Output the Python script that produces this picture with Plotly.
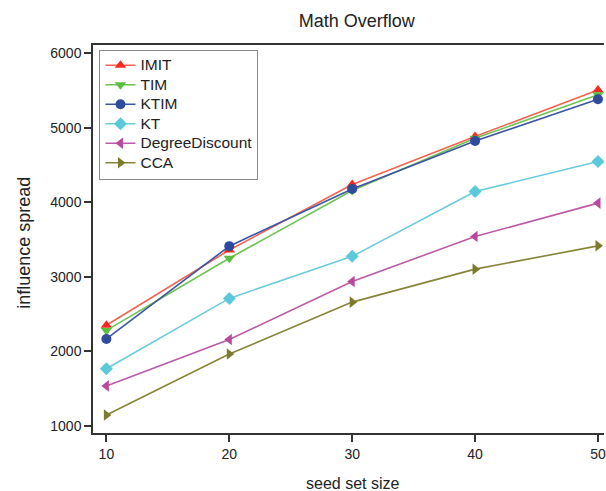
import plotly.graph_objects as go

seed_sizes = [10, 20, 30, 40, 50]
x_ticks = [10, 20, 30, 40, 50]
y_ticks = [1000, 2000, 3000, 4000, 5000, 6000]

imit = [2350, 3360, 4240, 4885, 5510]
tim = [2280, 3250, 4160, 4860, 5445]
ktim = [2165, 3412, 4180, 4825, 5385]
kt = [1765, 2710, 3275, 4145, 4548]
degree_discount = [1535, 2158, 2937, 3541, 3990]
cca = [1145, 1962, 2660, 3103, 3416]

series = [
    ("IMIT", imit, "#F42A22", "#F2644F", "triangle-up"),
    ("TIM", tim, "#5DBE3E", "#6CC452", "triangle-down"),
    ("KTIM", ktim, "#2E4B9E", "#3A55A4", "circle"),
    ("KT", kt, "#5CC9DB", "#69CCDD", "diamond"),
    ("DegreeDiscount", degree_discount, "#B8499F", "#BD5AA8", "triangle-left"),
    ("CCA", cca, "#7C7B2C", "#85853A", "triangle-right"),
]

fig = go.Figure()
for name, vals, mcol, lcol, sym in series:
    fig.add_trace(go.Scatter(
        x=seed_sizes, y=vals,
        name="<span style='font-size:15.5px'>" + name + "</span>",
        mode="lines+markers",
        line=dict(color=lcol, width=1.6),
        marker=dict(symbol=sym, size=10, color=mcol),
        cliponaxis=False,
    ))

W, H = 606, 491
L, R, T, B = 93, 0, 45, 58
pw, ph = W - L - R, H - T - B

font_family = "Liberation Sans, Arial, Helvetica, sans-serif"

fig.update_layout(
    width=W, height=H,
    margin=dict(l=L, r=R, t=T, b=B, pad=0),
    plot_bgcolor="white", paper_bgcolor="white",
    font=dict(family=font_family, color="#222222"),
    title=dict(text="Math Overflow", x=356.7 / W, xanchor="center",
               y=1 - 21 / H, yanchor="middle", yref="container",
               font=dict(size=18, color="#222222")),
    showlegend=True,
    legend=dict(x=(99.5 - L) / pw, y=(H - B - 49.5) / ph, xanchor="left", yanchor="top",
                bordercolor="#8A8A8A", borderwidth=1, bgcolor="white",
                font=dict(size=12.7, color="#222222"), tracegroupgap=0),
    xaxis=dict(range=[8.91, 50.49], tickvals=x_ticks, ticks="outside", ticklen=7,
               tickwidth=1.5, tickcolor="#333333", showline=True, linecolor="#333333",
               linewidth=1.5, mirror=True, showgrid=False, zeroline=False,
               ticklabeloverflow="allow",
               tickfont=dict(size=14, color="#222222")),
    yaxis=dict(range=[902, 6114], tickvals=y_ticks, ticks="outside", ticklen=7,
               tickwidth=1.5, tickcolor="#333333", showline=True, linecolor="#333333",
               linewidth=1.5, mirror=False, showgrid=False, zeroline=False,
               tickfont=dict(size=14, color="#222222")),
    annotations=[
        dict(text="seed set size", xref="paper", yref="paper",
             x=(354 - L) / pw, y=-(483 - (H - B)) / ph, xanchor="center", yanchor="middle",
             showarrow=False, font=dict(size=16, color="#222222")),
        dict(text="influence spread", xref="paper", yref="paper",
             x=(23 - L) / pw, y=((H - B) - 242.5) / ph, xanchor="center", yanchor="middle",
             textangle=-90, showarrow=False, font=dict(size=18, color="#222222")),
    ],
)

fig.write_html("out.html")
